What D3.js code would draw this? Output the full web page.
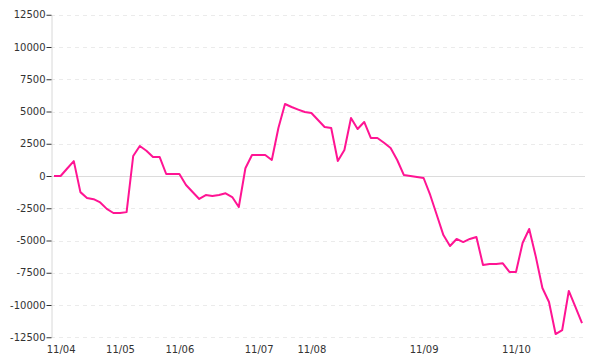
<!DOCTYPE html>
<html>

<head>
    <meta charset="utf-8">
    <title>pnl line</title>
    <style>
        body { margin: 0; background: #fff; }
        text { font-family: "DejaVu Sans", Verdana, sans-serif; font-size: 10px; fill: #333; }
    </style>
</head>

<body>
<script src="https://cdn.jsdelivr.net/npm/d3@7"></script>
<script type="text/javascript">
    // one value per sample
    var values = [
        0, 0, 580, 1150, -1250, -1700, -1800, -2050, -2550, -2870,
        -2870, -2800, 1550, 2330, 1960, 1475, 1475, 155, 155, 155,
        -700, -1240, -1780, -1475, -1550, -1475, -1340, -1630, -2400, 600,
        1630, 1630, 1630, 1240, 3720, 5580, 5350, 5150, 4960, 4880,
        4340, 3800, 3720, 1160, 2020, 4500, 3640, 4190, 2950, 2950,
        2580, 2170, 1240, 80, 0, -80, -155, -1470, -3020, -4580,
        -5430, -4880, -5120, -4880, -4730, -6900, -6820, -6820, -6770, -7440,
        -7440, -5190, -4110, -6250, -8680, -9770, -12250, -11940, -8910, -10150,
        -11400
    ];
    var dayIndex = [1, 10, 19, 31, 39, 56, 70];
    var dayLabels = ["11/04", "11/05", "11/06", "11/07", "11/08", "11/09", "11/10"];
    var yTicks = [-12500, -10000, -7500, -5000, -2500, 0, 2500, 5000, 7500, 10000, 12500];

    var width = 600, height = 360;
    var plotLeft = 51, plotRight = 585, plotTop = 14.75, plotBottom = 337.25;

    var svg = d3.select("body").append("svg")
        .attr("width", width).attr("height", height);

    var x = d3.scaleLinear().domain([0, values.length - 1]).range([54, 582]);
    var y = d3.scaleLinear().domain([-12500, 12500]).range([plotBottom, plotTop]);

    // grid
    svg.append("g").selectAll("line")
        .data(yTicks)
        .enter().append("line")
        .attr("x1", plotLeft).attr("x2", plotRight)
        .attr("y1", function (d) { return Math.round(y(d)) + 0.5; })
        .attr("y2", function (d) { return Math.round(y(d)) + 0.5; })
        .attr("stroke", function (d) { return d == 0 ? "#dcdcdc" : "#ebebeb"; })
        .attr("stroke-dasharray", function (d) { return d == 0 ? null : "4,4"; });

    // y axis
    var yAxis = svg.append("g")
        .attr("transform", "translate(" + (plotLeft + 0.5) + ",0)")
        .call(d3.axisLeft(y).tickValues(yTicks).tickSize(5).tickSizeOuter(0).tickPadding(1)
            .tickFormat(function (d) { return d; }));
    yAxis.select(".domain").attr("stroke", "#d8d8d8");
    yAxis.selectAll(".tick line").attr("stroke", "#333");
    yAxis.selectAll("text").attr("fill", "#333");
    yAxis.attr("font-size", null).attr("font-family", null);

    // x labels
    var xAxis = svg.append("g")
        .attr("transform", "translate(0," + plotBottom + ")")
        .call(d3.axisBottom(x).tickValues(dayIndex).tickSize(0).tickPadding(8.5)
            .tickFormat(function (d, i) { return dayLabels[i]; }));
    xAxis.select(".domain").remove();
    xAxis.selectAll("text").attr("fill", "#333");
    xAxis.attr("font-size", null).attr("font-family", null);

    // line
    var line = d3.line()
        .x(function (d, i) { return x(i); })
        .y(function (d) { return y(d); });

    svg.append("path")
        .datum(values)
        .attr("d", line)
        .attr("fill", "none")
        .attr("stroke", "#ff1493")
        .attr("stroke-width", 2)
        .attr("stroke-linejoin", "round");
</script>
</body>

</html>
